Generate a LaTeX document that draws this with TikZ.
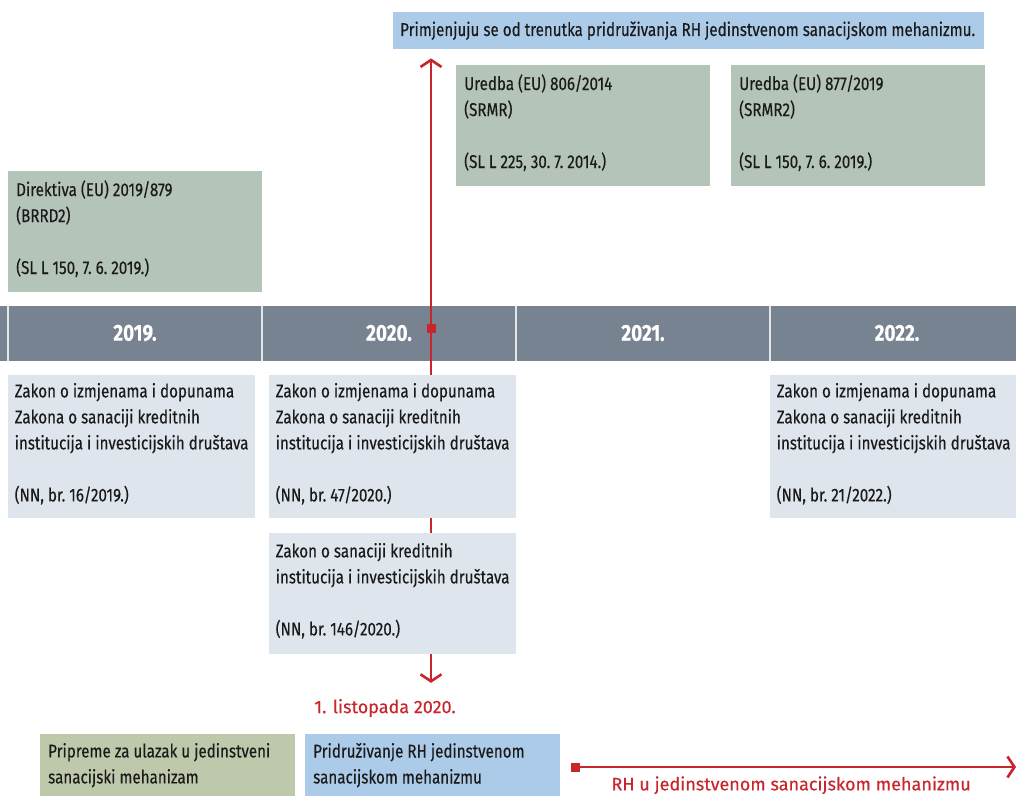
\documentclass[tikz,border=0pt]{standalone}
\usepackage{fontspec}
\setmainfont{Fira Sans}[FakeStretch=0.82, FakeBold=0.3]
\newfontfamily\widesans{Fira Sans}[FakeBold=0.3]
\usetikzlibrary{arrows.meta}

\definecolor{bannerblue}{RGB}{172,203,232}
\definecolor{eugreen}{RGB}{181,196,185}
\definecolor{barslate}{RGB}{120,131,145}
\definecolor{lawgray}{RGB}{223,229,237}
\definecolor{prepolive}{RGB}{190,200,170}
\definecolor{srmred}{RGB}{200,38,45}
\definecolor{inktext}{RGB}{26,26,26}

\tikzset{
  tile/.style={anchor=north west, fill=eugreen, text=inktext, align=flush left,
    inner xsep=8pt, inner ysep=0pt, text width=238pt, minimum height=121pt,
    font=\fontsize{18.5}{26}\selectfont\frenchspacing,
    execute at begin node={\hyphenpenalty=10000\relax}},
  doc/.style={tile, execute at end node={\rule[-9pt]{0pt}{0pt}}},
  law/.style={doc, fill=lawgray, inner xsep=6.5pt, text width=234pt},
  phase/.style={tile, text width=239pt, minimum height=62pt},
  yearlabel/.style={text=white, font=\fontsize{23}{26}\selectfont\bfseries},
  redtext/.style={text=srmred, inner sep=0pt, font=\widesans\fontsize{18}{22}\selectfont},
  redline/.style={draw=srmred, line width=2.6pt},
  redtip/.style={-{Straight Barb[length=7pt,width=21pt,line width=2.6pt]}},
  marker/.style={fill=srmred, inner sep=0pt, minimum size=9pt},
  tick/.style={draw=white!80!barslate, line width=1.2pt}
}

\begin{document}
\begin{tikzpicture}[x=1pt,y=-1pt]
  \useasboundingbox (0,0) rectangle (1016,795);

  % top: banner and EU acts
  \node[tile, fill=bannerblue, text width=577pt, inner xsep=7pt, minimum height=37pt]
    (banner) at (393,12)
    {Primjenjuju se od trenutka pridruživanja RH jedinstvenom sanacijskom mehanizmu.};
  \node[doc] (srmr) at (456,65)
    {Uredba (EU) 806/2014\\(SRMR)\\[26pt](SL L 225, 30. 7. 2014.)};
  \node[doc] (srmr2) at (731,65)
    {Uredba (EU) 877/2019\\(SRMR2)\\[26pt](SL L 150, 7. 6. 2019.)};
  \node[doc] (brrd2) at (8,171)
    {Direktiva (EU) 2019/879\\(BRRD2)\\[26pt](SL L 150, 7. 6. 2019.)};

  \node[redtext] (date) at (385,708) {1. listopada 2020.};

  % timeline
  \fill[barslate] (0,306) rectangle (1016,361);
  \foreach \yr [count=\i from 0] in {2019,2020,2021,2022} {
    \draw[tick] (8+254*\i,306) -- (8+254*\i,361);
    \node[yearlabel] (y\yr) at (135+254*\i,333) {\yr.};
  }

  \coordinate (m2020) at (431,328);
  \begin{scope}[redline, redtip]
    \draw[shorten >=9pt] (m2020) -- (m2020 |- banner.south);
    \draw[shorten >=16pt] (m2020) -- (m2020 |- date.north);
  \end{scope}
  \node[marker] (mk2020) at (m2020) {};

  % national laws
  \node[law, minimum height=143pt] (zid2019) at (8,375)
    {Zakon o izmjenama i dopunama\\Zakona o sanaciji kreditnih\\institucija i investicijskih društava\\[26pt](NN, br. 16/2019.)};
  \node[law, minimum height=143pt] (zid2020) at (269,375)
    {Zakon o izmjenama i dopunama\\Zakona o sanaciji kreditnih\\institucija i investicijskih društava\\[26pt](NN, br. 47/2020.)};
  \node[law, minimum height=143pt] (zid2022) at (770,375)
    {Zakon o izmjenama i dopunama\\Zakona o sanaciji kreditnih\\institucija i investicijskih društava\\[26pt](NN, br. 21/2022.)};
  \node[law] (zsk2020) at (269,533)
    {Zakon o sanaciji kreditnih\\institucija i investicijskih društava\\[26pt](NN, br. 146/2020.)};

  % phases
  \node[phase, fill=prepolive] (prep) at (40,734)
    {Pripreme za ulazak u jedinstveni\\sanacijski mehanizam};
  \node[phase, fill=bannerblue] (join) at (305,734)
    {Pridruživanje RH jedinstvenom\\sanacijskom mehanizmu};

  \coordinate (rhstart) at (575,767);
  \coordinate (rhend) at (1016,767);
  \draw[redline, redtip] (rhstart) -- (rhend)
    node[redtext, pos=0.49, below=8pt] (rhlabel) {RH u jedinstvenom sanacijskom mehanizmu};
  \node[marker] (mkrh) at (rhstart) {};
\end{tikzpicture}
\end{document}
